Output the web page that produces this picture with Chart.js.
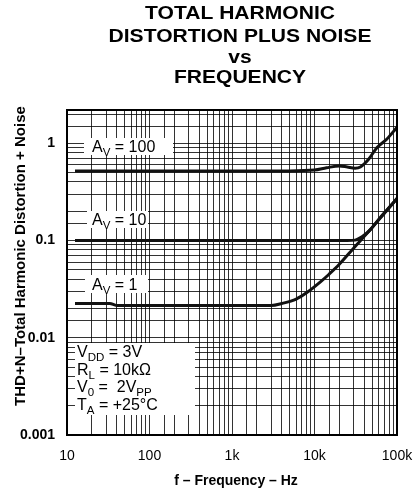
<!DOCTYPE html>
<html>
<head>
<meta charset="utf-8">
<script src="https://cdn.jsdelivr.net/npm/chart.js@4.4.0/dist/chart.umd.min.js"></script>
<style>
html, body { margin: 0; padding: 0; background: #fff; }
#wrap { width: 415px; height: 491px; position: relative; }
</style>
</head>
<body>
<div id="wrap"><canvas id="thd"></canvas></div>
<script>
// values (frequency in Hz, THD+N in %)
const freqAv100 = [12.5, 100, 1000, 5000, 10000, 14000, 20000, 25000, 31000, 36000, 45000, 57000, 75000, 100000];
const thdAv100 = [0.52, 0.52, 0.52, 0.52, 0.53, 0.56, 0.585, 0.57, 0.555, 0.57, 0.68, 0.9, 1.1, 1.46];

const freqAv10 = [12.5, 100, 1000, 10000, 25000, 31000, 38000, 47000, 60000, 75000, 100000];
const thdAv10 = [0.1, 0.1, 0.1, 0.1, 0.1, 0.101, 0.11, 0.128, 0.165, 0.205, 0.27];

const freqAv1 = [12.5, 33, 40, 100, 1000, 3000, 4000, 6000, 8000, 12000, 15000, 20000, 30000, 47000, 70000, 100000];
const thdAv1 = [0.0225, 0.0225, 0.0215, 0.0215, 0.0215, 0.0215, 0.0225, 0.025, 0.029, 0.038, 0.045, 0.057, 0.084, 0.128, 0.19, 0.27];

const xTickNames = { 10: "10", 100: "100", 1000: "1k", 10000: "10k", 100000: "100k" };
const yTickNames = { "-3": "0.001", "-2": "0.01", "-1": "0.1", "0": "1" };

function pts(xs, ys) {
  return xs.map((x, i) => ({ x: x, y: ys[i] }));
}

function isDecade(v) {
  const l = Math.log10(v);
  return Math.abs(l - Math.round(l)) < 1e-6;
}

// text with subscripts: parts = [[text, isSub], ...]
function drawParts(ctx, x, y, parts, size) {
  let cx = x;
  parts.forEach(([t, sub]) => {
    ctx.font = (sub ? size * 0.72 : size) + "px 'Liberation Sans', Arial, sans-serif";
    ctx.fillText(t, cx, sub ? y + 4 : y);
    cx += ctx.measureText(t).width;
  });
}

const notes = [
  { box: [84, 138, 89, 17], lines: [[92, 152, [["A"], ["V", true], [" = 100"]]]] },
  { box: [87, 211, 61, 17], lines: [[92, 225, [["A"], ["V", true], [" = 10"]]]] },
  { box: [85, 275, 63, 18], lines: [[92, 290, [["A"], ["V", true], [" = 1"]]]] },
  {
    box: [75, 343, 120, 72],
    lines: [
      [77, 357, [["V"], ["DD", true], [" = 3V"]]],
      [77, 375, [["R"], ["L", true], [" = 10k\u03a9"]]],
      [77, 392, [["V"], ["0", true], [" =  2V"], ["PP", true]]],
      [77, 410, [["T"], ["A", true], [" = +25\u00b0C"]]],
    ],
  },
];

const textPlugin = {
  id: "thdText",
  beforeDatasetsDraw(chart) {
    const ctx = chart.ctx;
    ctx.save();
    notes.forEach((n) => {
      ctx.fillStyle = "#fff";
      ctx.fillRect(n.box[0], n.box[1], n.box[2], n.box[3]);
      ctx.fillStyle = "#000";
      ctx.textBaseline = "alphabetic";
      ctx.textAlign = "left";
      n.lines.forEach(([x, y, parts]) => drawParts(ctx, x, y, parts, 16));
    });
    ctx.restore();
  },
  afterDraw(chart) {
    const ctx = chart.ctx;
    const a = chart.chartArea;
    ctx.save();
    // plot frame
    ctx.strokeStyle = "#000";
    ctx.lineWidth = 2;
    ctx.strokeRect(a.left, a.top, a.right - a.left, a.bottom - a.top);

    // main title, slightly stretched like the original
    ctx.fillStyle = "#000";
    ctx.textAlign = "center";
    ctx.textBaseline = "alphabetic";
    const title = [["TOTAL HARMONIC", 19], ["DISTORTION PLUS NOISE", 42], ["vs", 63], ["FREQUENCY", 83]];
    title.forEach(([t, y]) => {
      ctx.save();
      ctx.translate(240, y);
      ctx.scale(1.17, 1);
      ctx.font = "bold 18px 'Liberation Sans', Arial, sans-serif";
      ctx.fillText(t, 0, 0);
      ctx.restore();
    });

    // x axis title
    ctx.font = "bold 14px 'Liberation Sans', Arial, sans-serif";
    ctx.fillText("f \u2013 Frequency \u2013 Hz", 236, 485);

    // y axis title
    ctx.save();
    ctx.translate(25, 256);
    ctx.rotate(-Math.PI / 2);
    ctx.font = "bold 15px 'Liberation Sans', Arial, sans-serif";
    ctx.fillText("THD+N\u2013Total Harmonic Distortion + Noise", 0, 0);
    ctx.restore();
    ctx.restore();
  },
};

Chart.defaults.color = "#000";
Chart.defaults.font.family = "'Liberation Sans', Arial, sans-serif";

const lineStyle = {
  borderColor: "#111",
  borderWidth: 3,
  pointRadius: 0,
  fill: false,
  cubicInterpolationMode: "monotone",
};

new Chart(document.getElementById("thd"), {
  type: "line",
  data: {
    datasets: [
      Object.assign({ label: "AV = 100", data: pts(freqAv100, thdAv100) }, lineStyle),
      Object.assign({ label: "AV = 10", data: pts(freqAv10, thdAv10) }, lineStyle),
      Object.assign({ label: "AV = 1", data: pts(freqAv1, thdAv1) }, lineStyle),
    ],
  },
  options: {
    responsive: true,
    maintainAspectRatio: false,
    animation: false,
    layout: { padding: { top: 110, right: 0, bottom: 0, left: 0 } },
    plugins: {
      legend: { display: false },
      tooltip: { enabled: false },
    },
    scales: {
      x: {
        type: "logarithmic",
        min: 10,
        max: 100000,
        afterFit: (s) => { s.height = 56; s.paddingRight = 18; },
        border: { display: false },
        grid: { color: "rgba(0,0,0,0.8)", lineWidth: 1, drawTicks: false },
        ticks: {
          autoSkip: false,
          maxRotation: 0,
          padding: 13,
          font: { size: 14 },
          callback: (v) => xTickNames[v] || "",
        },
      },
      y: {
        type: "logarithmic",
        min: 0.001,
        max: 2.2,
        afterFit: (s) => { s.width = 67; },
        border: { display: false },
        grid: { color: "rgba(0,0,0,0.8)", lineWidth: 1, drawTicks: false },
        ticks: {
          autoSkip: false,
          padding: 12,
          font: { size: 14, weight: "bold" },
          callback: (v) => (isDecade(v) ? yTickNames[String(Math.round(Math.log10(v)))] || "" : ""),
        },
      },
    },
  },
  plugins: [textPlugin],
});
</script>
</body>
</html>
